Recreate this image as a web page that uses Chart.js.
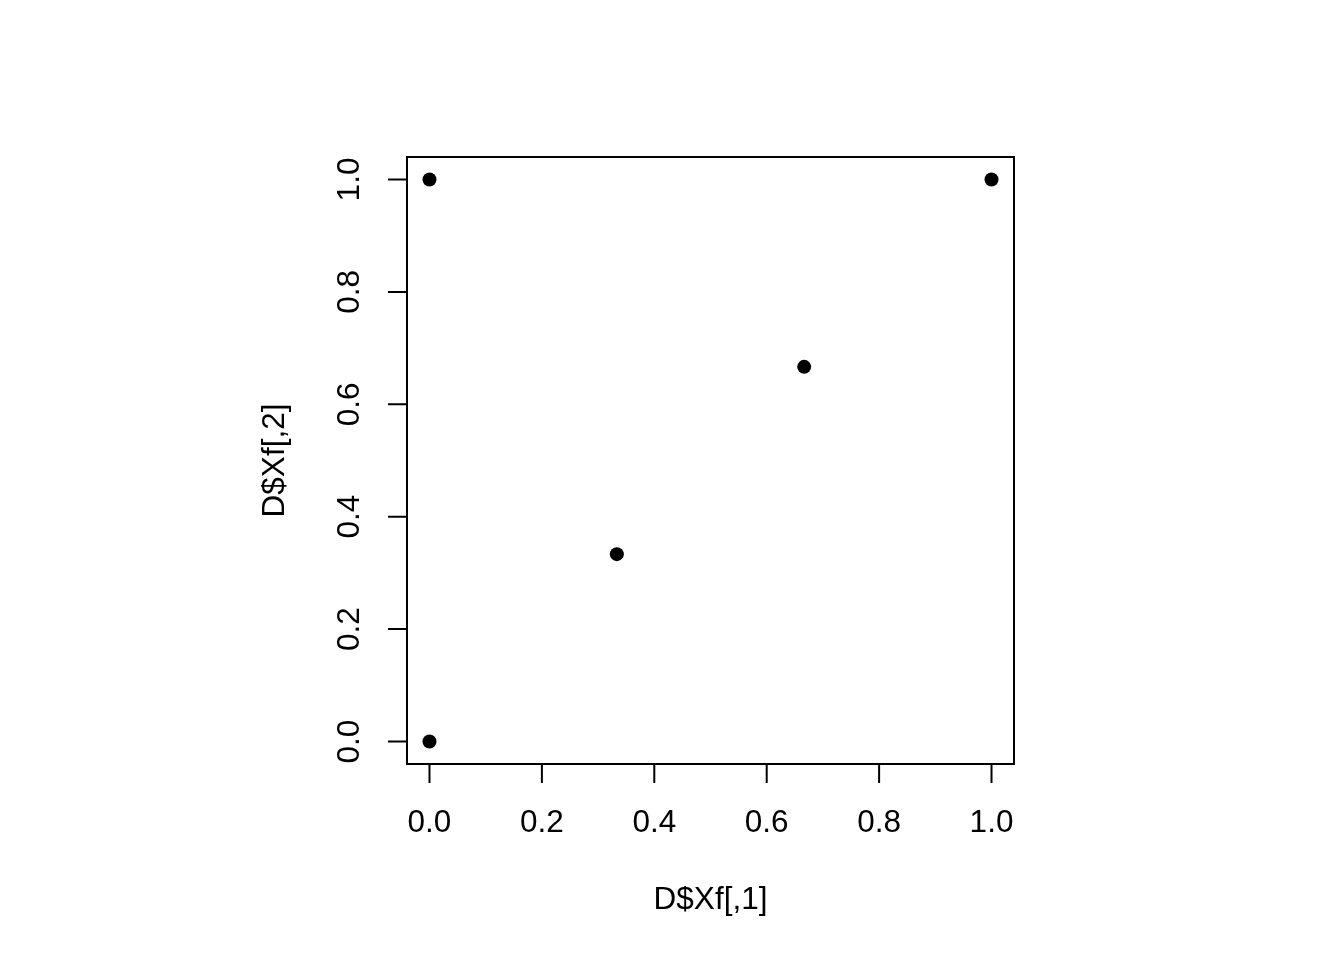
<!DOCTYPE html>
<html>
<head>
<meta charset="utf-8">
<script src="https://cdn.jsdelivr.net/npm/chart.js@4"></script>
<style>
html,body{margin:0;padding:0;background:#fff;}
canvas{display:block;}
</style>
</head>
<body>
<canvas id="c" width="1344" height="960"></canvas>
<script>
const xValues = [0, 0, 1/3, 2/3, 1];
const yValues = [0, 1, 1/3, 2/3, 1];
const xTicks = [0, 0.2, 0.4, 0.6, 0.8, 1.0];
const yTicks = [0, 0.2, 0.4, 0.6, 0.8, 1.0];
const xTitle = "D$Xf[,1]";
const yTitle = "D$Xf[,2]";

const FONT = '31.5px "Liberation Sans", Arial, sans-serif';

const rAxes = {
  id: 'rAxes',
  afterDraw(chart) {
    const ctx = chart.ctx;
    const a = chart.chartArea;
    const xs = chart.scales.x, ys = chart.scales.y;
    ctx.save();
    ctx.strokeStyle = '#000';
    ctx.lineWidth = 2;
    ctx.strokeRect(a.left, a.top, a.right - a.left, a.bottom - a.top);
    const tl = 19;
    ctx.beginPath();
    ctx.moveTo(xs.getPixelForValue(xTicks[0]), a.bottom);
    ctx.lineTo(xs.getPixelForValue(xTicks[xTicks.length-1]), a.bottom);
    xTicks.forEach(v => {
      const px = xs.getPixelForValue(v);
      ctx.moveTo(px, a.bottom);
      ctx.lineTo(px, a.bottom + tl);
    });
    ctx.moveTo(a.left, ys.getPixelForValue(yTicks[0]));
    ctx.lineTo(a.left, ys.getPixelForValue(yTicks[yTicks.length-1]));
    yTicks.forEach(v => {
      const py = ys.getPixelForValue(v);
      ctx.moveTo(a.left, py);
      ctx.lineTo(a.left - tl, py);
    });
    ctx.stroke();
    ctx.fillStyle = '#000';
    ctx.font = FONT;
    ctx.textAlign = 'center';
    ctx.textBaseline = 'middle';
    xTicks.forEach(v => {
      ctx.fillText(v.toFixed(1), xs.getPixelForValue(v), 823);
    });
    yTicks.forEach(v => {
      const py = ys.getPixelForValue(v);
      ctx.save();
      ctx.translate(350, py);
      ctx.rotate(-Math.PI/2);
      ctx.fillText(v.toFixed(1), 0, 0);
      ctx.restore();
    });
    ctx.fillText(xTitle, (a.left + a.right)/2, 900);
    ctx.save();
    ctx.translate(275, (a.top + a.bottom)/2);
    ctx.rotate(-Math.PI/2);
    ctx.fillText(yTitle, 0, 0);
    ctx.restore();
    ctx.restore();
  }
};

new Chart(document.getElementById('c'), {
  type: 'scatter',
  data: {
    datasets: [{
      data: xValues.map((x, i) => ({x: x, y: yValues[i]})),
      backgroundColor: '#000',
      borderColor: '#000',
      pointRadius: 7,
      pointBorderWidth: 0
    }]
  },
  options: {
    responsive: false,
    devicePixelRatio: 1,
    animation: false,
    layout: { padding: { left: 407, top: 157, right: 330, bottom: 196 } },
    plugins: { legend: { display: false }, tooltip: { enabled: false } },
    scales: {
      x: { type: 'linear', min: -0.04, max: 1.04, display: false },
      y: { type: 'linear', min: -0.04, max: 1.04, display: false }
    }
  },
  plugins: [rAxes]
});
</script>
</body>
</html>
